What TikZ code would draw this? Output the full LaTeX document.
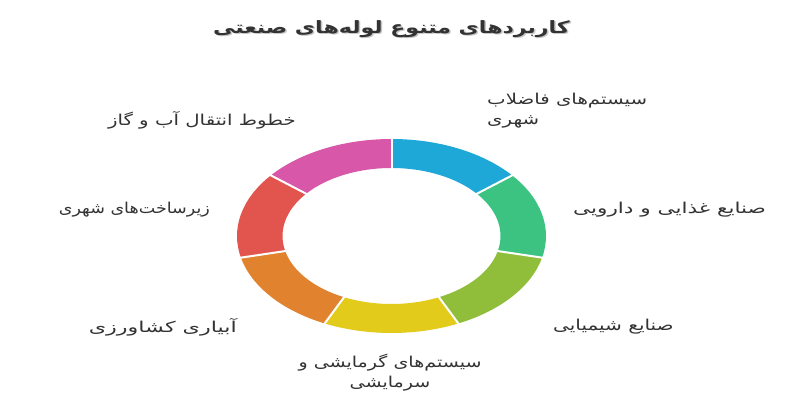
\documentclass[tikz,border=0pt]{standalone}
\usepackage{fontspec}
\usepackage{graphicx}
\usetikzlibrary{calc}
\TeXXeTstate=1
\newfontfamily\arabicfont[Script=Arabic]{DejaVu Sans}
\definecolor{segblue}{HTML}{1EA8D8}
\definecolor{seggreen}{HTML}{3CC382}
\definecolor{segolive}{HTML}{90BE3A}
\definecolor{segyellow}{HTML}{E2CB1B}
\definecolor{segorange}{HTML}{E0822E}
\definecolor{segred}{HTML}{E2554F}
\definecolor{segpink}{HTML}{D957A8}
\definecolor{labelgray}{HTML}{333333}
\newcommand{\rtl}[1]{\beginR #1\endR}
\newcommand{\wide}[2]{\scalebox{#1}[1]{#2}}
\begin{document}
\begin{tikzpicture}[x=1pt,y=1pt,
  lbl/.style={font=\arabicfont\fontsize{15}{20}\selectfont, text=labelgray, inner sep=0pt},
  ttl/.style={font=\arabicfont\bfseries\fontsize{17}{20}\selectfont, inner sep=0pt}]
\useasboundingbox[fill=white] (0,0) rectangle (800,400);
\coordinate (c) at (391.5,164);
\foreach \i/\col in {0/segblue,1/seggreen,2/segolive,3/segyellow,4/segorange,5/segred,6/segpink}{
  \pgfmathsetmacro\a{90-\i*360/7}
  \pgfmathsetmacro\b{90-(\i+1)*360/7}
  \fill[\col] ($(c)+(\a:154.5pt and 97pt)$) arc[start angle=\a, end angle=\b, x radius=154.5pt, y radius=97pt]
    -- ($(c)+(\b:109pt and 68pt)$) arc[start angle=\b, end angle=\a, x radius=109pt, y radius=68pt] -- cycle;
}
\foreach \i in {0,...,6}{
  \pgfmathsetmacro\a{90-\i*360/7}
  \draw[white, line width=2pt] ($(c)+(\a:108pt and 67pt)$) -- ($(c)+(\a:155.5pt and 98pt)$);
}
% title
\node[ttl, text=gray!45] (titleshadow) at (393,369.5) {\wide{1.30}{\rtl{کاربردهای متنوع لوله‌های صنعتی}}};
\node[ttl, text=labelgray] (title) at (391.5,371) {\wide{1.30}{\rtl{کاربردهای متنوع لوله‌های صنعتی}}};
% labels
\node[lbl, anchor=north west] (fazelab) at (487,309.5) {\wide{1.316}{\begin{tabular}{@{}l@{}}\rtl{سیستم‌های فاضلاب}\\\rtl{شهری}\end{tabular}}};
\node[lbl, anchor=west] (ghazaei) at (573,190) {\wide{1.437}{\rtl{صنایع غذایی و دارویی}}};
\node[lbl, anchor=west] (shimiaei) at (553,73) {\wide{1.335}{\rtl{صنایع شیمیایی}}};
\node[lbl, anchor=north] (garmaeshi) at (390,46.5) {\wide{1.27}{\begin{tabular}{@{}c@{}}\rtl{سیستم‌های گرمایشی و}\\\rtl{سرمایشی}\end{tabular}}};
\node[lbl, anchor=east] (abyari) at (237,73) {\wide{1.484}{\rtl{آبیاری کشاورزی}}};
\node[lbl, anchor=east] (zirsakht) at (210,190) {\wide{1.167}{\rtl{زیرساخت‌های شهری}}};
\node[lbl, anchor=east] (khotut) at (296,280) {\wide{1.316}{\rtl{خطوط انتقال آب و گاز}}};
\end{tikzpicture}
\end{document}
